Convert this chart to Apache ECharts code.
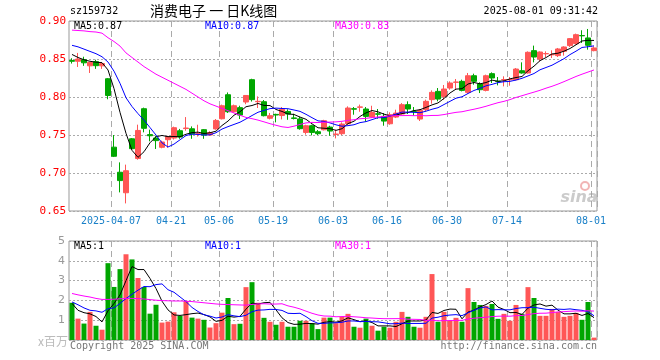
<!DOCTYPE html>
<html><head><meta charset="utf-8">
<script src="https://cdn.jsdelivr.net/npm/echarts@6/dist/echarts.min.js"></script>
<style>html,body{margin:0;padding:0;background:#fff}#c{width:660px;height:360px}</style>
</head><body><div id="c"></div>
<script>
const dates = ['2025-03-26','2025-03-27','2025-03-28','2025-03-31',
'2025-04-01','2025-04-02','2025-04-03','2025-04-07','2025-04-08','2025-04-09','2025-04-10','2025-04-11',
'2025-04-14','2025-04-15','2025-04-16','2025-04-17','2025-04-18','2025-04-21','2025-04-22','2025-04-23',
'2025-04-24','2025-04-25','2025-04-28','2025-04-29','2025-04-30',
'2025-05-06','2025-05-07','2025-05-08','2025-05-09','2025-05-12','2025-05-13','2025-05-14','2025-05-15',
'2025-05-16','2025-05-19','2025-05-20','2025-05-21','2025-05-22','2025-05-23','2025-05-26','2025-05-27',
'2025-05-28','2025-05-29','2025-05-30',
'2025-06-03','2025-06-04','2025-06-05','2025-06-06','2025-06-09','2025-06-10','2025-06-11','2025-06-12',
'2025-06-13','2025-06-16','2025-06-17','2025-06-18','2025-06-19','2025-06-20','2025-06-23','2025-06-24',
'2025-06-25','2025-06-26','2025-06-27','2025-06-30',
'2025-07-01','2025-07-02','2025-07-03','2025-07-04','2025-07-07','2025-07-08','2025-07-09','2025-07-10',
'2025-07-11','2025-07-14','2025-07-15','2025-07-16','2025-07-17','2025-07-18','2025-07-21','2025-07-22',
'2025-07-23','2025-07-24','2025-07-25','2025-07-28','2025-07-29','2025-07-30','2025-07-31','2025-08-01'];

const opens = [0.848,0.847,0.849,0.841,0.8465,0.841,0.824,0.734,0.701,0.674,
0.745,0.719,0.7846,0.7505,0.746,0.7338,0.7438,0.746,0.7556,0.7585,
0.7582,0.7512,0.757,0.750,0.758,0.7714,0.803,0.7806,0.786,0.7934,
0.8228,0.7938,0.7938,0.772,0.7771,0.7756,0.781,0.7725,0.7712,0.7534,
0.7622,0.7543,0.7569,0.7604,0.7508,0.7517,0.7648,0.7846,0.7864,0.7842,
0.7736,0.7778,0.7745,0.7648,0.7736,0.7776,0.7899,0.7813,0.771,0.7833,
0.7965,0.8074,0.8008,0.8118,0.8193,0.8206,0.8061,0.828,0.8171,0.8087,
0.8307,0.8208,0.8226,0.8226,0.8228,0.8346,0.8316,0.861,0.85,0.8568,
0.8555,0.8544,0.8601,0.8676,0.8702,0.8809,0.8777,0.861];

const closes = [0.847,0.850,0.845,0.8456,0.8412,0.844,0.802,0.722,0.690,0.703,
0.732,0.756,0.7588,0.749,0.7426,0.7408,0.748,0.7596,0.7473,0.7592,
0.7512,0.7517,0.750,0.753,0.7692,0.7885,0.7806,0.7885,0.7762,0.802,
0.7965,0.7943,0.7754,0.7754,0.7763,0.7838,0.7776,0.7718,0.7583,0.7622,
0.7534,0.7517,0.7688,0.7552,0.7512,0.7644,0.7855,0.7840,0.7870,0.7745,
0.7798,0.7774,0.7683,0.7767,0.7789,0.7899,0.7842,0.7809,0.7824,0.7943,
0.8061,0.7973,0.8105,0.8184,0.8197,0.8087,0.828,0.8206,0.8096,0.828,
0.825,0.8204,0.823,0.823,0.8368,0.8316,0.8588,0.8526,0.8592,0.8572,
0.8559,0.8632,0.8658,0.8768,0.882,0.8805,0.868,0.8645];

const highs = [0.851,0.858,0.853,0.846,0.849,0.846,0.825,0.750,0.714,0.711,
0.746,0.7636,0.786,0.757,0.749,0.7425,0.749,0.761,0.758,0.7736,
0.7613,0.7635,0.7578,0.755,0.771,0.790,0.806,0.790,0.7885,0.8025,
0.824,0.8008,0.796,0.779,0.778,0.7868,0.7838,0.778,0.774,0.7635,
0.7635,0.7565,0.770,0.7622,0.757,0.7666,0.7877,0.7868,0.790,0.7868,
0.7885,0.7842,0.7789,0.7798,0.7833,0.792,0.7943,0.7868,0.7842,0.7965,
0.8087,0.8118,0.8158,0.8206,0.8237,0.8228,0.8316,0.8307,0.8193,0.8294,
0.8324,0.8263,0.8272,0.8263,0.8381,0.8456,0.860,0.8676,0.860,0.8601,
0.8614,0.8645,0.8667,0.8776,0.8834,0.8878,0.8895,0.8667];

const lows = [0.844,0.8395,0.841,0.8316,0.837,0.837,0.797,0.721,0.6745,0.660,
0.731,0.7175,0.7535,0.7417,0.7316,0.7325,0.733,0.744,0.745,0.7556,
0.745,0.748,0.745,0.749,0.757,0.7705,0.779,0.7795,0.771,0.7905,
0.794,0.7855,0.7745,0.7705,0.7666,0.7705,0.770,0.7705,0.757,0.7505,
0.7495,0.750,0.756,0.749,0.7455,0.750,0.7635,0.7767,0.7806,0.7675,
0.7723,0.7714,0.7622,0.7635,0.7723,0.7767,0.7776,0.7754,0.7684,0.7811,
0.7912,0.7943,0.7965,0.8096,0.8096,0.8074,0.8043,0.8162,0.8052,0.8074,
0.8184,0.8153,0.8140,0.8149,0.8219,0.8307,0.8307,0.8456,0.8469,0.8526,
0.8513,0.8526,0.8544,0.8658,0.8689,0.8711,0.8623,0.8601];

// volume in millions
const volumes = [1.88,1.08,0.83,1.42,0.72,0.52,3.88,2.68,3.58,4.33,
4.07,3.13,2.68,1.33,1.78,0.88,0.93,1.40,1.22,1.97,
1.13,1.08,1.02,0.63,0.85,1.38,2.12,0.80,0.82,2.67,
2.92,1.88,1.12,0.92,0.77,0.92,0.67,0.67,0.97,0.97,
0.85,0.55,1.13,1.13,0.85,1.17,1.32,0.67,0.62,1.08,
0.72,0.47,0.67,0.62,0.92,1.42,1.17,0.67,0.62,1.17,
3.33,0.92,1.42,0.97,1.12,0.92,2.62,1.92,1.77,1.72,
1.82,1.07,1.32,0.97,1.77,1.32,2.67,2.12,1.22,1.22,
1.57,1.42,1.17,1.22,1.37,1.02,1.92,0.12];

// moving-average values before a full window exists inside the view
const ma5Head = [0.856,0.852,0.849,0.847];
const ma10Head = [0.868,0.866,0.863,0.860,0.857,0.853,0.846,0.834,0.818];
const ma30Head = [0.888,0.8875,0.887,0.886,0.8855,0.884,0.878,0.873,0.867,0.858,0.852,0.846,0.840,0.835,0.830,0.826,0.822,0.818,0.814,0.810,0.805,0.800,0.795,0.791,0.788,0.785,0.782,0.779,0.776];
const vma5Head = [1.85,1.5,1.38,1.32];
const vma10Head = [1.92,1.78,1.62,1.5,1.47,1.4,1.58,1.62,1.85];
const vma30Head = [2.35,2.28,2.22,2.17,2.1,2.05,2.05,2.06,2.08,2.1,2.1,2.09,2.07,2.04,2.01,1.99,1.98,1.97,1.97,1.96,1.94,1.91,1.88,1.85,1.82,1.8,1.79,1.78,1.77];

const xTickDates = ['2025-04-07','2025-04-21','2025-05-06','2025-05-19','2025-06-03','2025-06-16','2025-06-30','2025-07-14','2025-08-01'];
const priceTicks = {min:0.65, max:0.90, step:0.05};
const volTicks = {min:0, max:5, step:1};
const titleCode = 'sz159732';
const titleName = '消费电子 一 日K线图';
const stamp = '2025-08-01 09:31:42';
const priceMaLabels = ['MA5:0.87','MA10:0.87','MA30:0.83'];
const volMaLabels = ['MA5:1','MA10:1','MA30:1'];

function movingAvg(arr, n, head){
  return arr.map((v,i)=>{
    if(i < n-1) return head[i];
    let s=0; for(let k=i-n+1;k<=i;k++) s+=arr[k];
    return +(s/n).toFixed(4);
  });
}
const ma5 = movingAvg(closes,5,ma5Head), ma10 = movingAvg(closes,10,ma10Head), ma30 = movingAvg(closes,30,ma30Head);
const vma5 = movingAvg(volumes,5,vma5Head), vma10 = movingAvg(volumes,10,vma10Head), vma30 = movingAvg(volumes,30,vma30Head);

const RED='#ff5656', GREEN='#00a600';
const kData = dates.map((d,i)=>[opens[i],closes[i],lows[i],highs[i]]);
const volData = volumes.map((v,i)=>({value:v,itemStyle:{color: closes[i]>=opens[i]?RED:GREEN}}));

const tickSet = new Set(xTickDates);
const MONO = 'DejaVu Sans Mono';
const chart = echarts.init(document.getElementById('c'), null, {renderer:'canvas'});

function xAxis(gi, showLabel){
  return {type:'category', gridIndex:gi, data:dates, boundaryGap:true,
    axisLine:{show:false}, axisTick:{show:false},
    axisLabel: showLabel ? {show:true, interval:(i,v)=>tickSet.has(v),
      formatter:v=> v===xTickDates[0]? v : v.slice(5),
      color:'#1a80c8', fontFamily:MONO, fontSize:10, margin:5, padding:[0,6,0,0]} : {show:false},
    splitLine:{show:true, interval:(i,v)=>tickSet.has(v), lineStyle:{color:'#aaa', type:[6,4], width:1}}};
}
const line = (name, data, color, xi, yi) => ({name, type:'line', data, xAxisIndex:xi, yAxisIndex:yi,
  symbol:'none', smooth:false, lineStyle:{color, width:1}, itemStyle:{color}, z:5, silent:true});

function txt(x,y,text,fill,opts={}){
  return {type:'text', x, y, silent:true, z:100, style:Object.assign({text, fill, font:'10px "'+MONO+'"', textVerticalAlign:'middle', textAlign:'left'}, opts)};
}

chart.setOption({
  animation:false,
  backgroundColor:'#fff',
  grid:[
    {left:69, top:21, width:528, height:190, show:true, borderColor:'#999', borderWidth:1, backgroundColor:'transparent'},
    {left:69, top:241, width:528, height:99, show:true, borderColor:'#999', borderWidth:1, backgroundColor:'transparent'}
  ],
  xAxis:[xAxis(0,true), xAxis(1,false)],
  yAxis:[
    {type:'value', gridIndex:0, min:priceTicks.min, max:priceTicks.max, interval:priceTicks.step,
     axisLine:{show:false}, axisTick:{show:false},
     axisLabel:{color:'#ff0000', formatter:v=>v.toFixed(2), fontFamily:MONO, fontSize:11, margin:3},
     splitLine:{show:true, lineStyle:{color:'#aaa', type:[2,2], width:1}}},
    {type:'value', gridIndex:1, min:volTicks.min, max:volTicks.max, interval:volTicks.step,
     axisLine:{show:false}, axisTick:{show:false},
     axisLabel:{color:'#999', formatter:v=> v===0?'':String(v), fontFamily:'DejaVu Sans', fontSize:11, margin:4},
     splitLine:{show:true, lineStyle:{color:'#aaa', type:[2,2], width:1}}}
  ],
  series:[
    {name:'K', type:'candlestick', data:kData, xAxisIndex:0, yAxisIndex:0, barWidth:5,
     itemStyle:{color:RED, color0:GREEN, borderColor:RED, borderColor0:GREEN, borderWidth:1}, z:3, silent:true},
    line('MA5', ma5, '#000000', 0, 0),
    line('MA10', ma10, '#0000ff', 0, 0),
    line('MA30', ma30, '#ff00ff', 0, 0),
    {name:'VOL', type:'bar', data:volData, xAxisIndex:1, yAxisIndex:1, barWidth:5, z:3, silent:true},
    line('VMA5', vma5, '#000000', 1, 1),
    line('VMA10', vma10, '#0000ff', 1, 1),
    line('VMA30', vma30, '#ff00ff', 1, 1)
  ],
  graphic:[
    txt(70,11,titleCode,'#000'),
    txt(150,11,titleName,'#000',{font:'14px "Noto Sans CJK SC"'}),
    txt(598,11,stamp,'#000',{textAlign:'right'}),
    txt(74,26,priceMaLabels[0],'#000'),
    txt(205,26,priceMaLabels[1],'#0000ff'),
    txt(335,26,priceMaLabels[2],'#ff00ff'),
    txt(74,246,volMaLabels[0],'#000'),
    txt(205,246,volMaLabels[1],'#0000ff'),
    txt(335,246,volMaLabels[2],'#ff00ff'),
    txt(38,341,'x百万','#bbb',{font:'12px "Noto Sans CJK SC"'}),
    txt(70,346,'Copyright 2025 SINA.COM','#777'),
    txt(597,346,'http://finance.sina.com.cn','#777',{textAlign:'right'}),
    {type:'circle', shape:{cx:585, cy:186, r:4}, silent:true, z:90, style:{fill:'none', stroke:'rgba(230,120,120,0.55)', lineWidth:2}},
    txt(579,198,'sina','rgba(160,160,160,0.55)',{font:'italic bold 16px "DejaVu Sans"', textAlign:'center'})
  ]
});
</script></body></html>
